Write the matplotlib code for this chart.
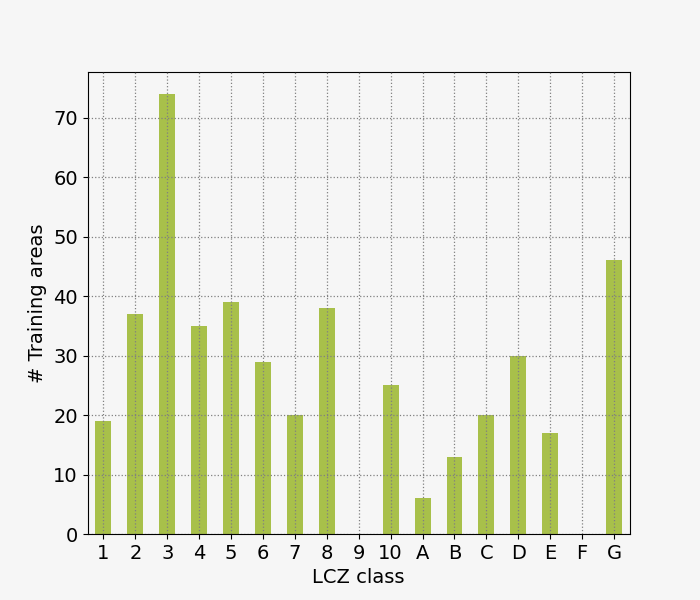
import matplotlib
matplotlib.use("Agg")
import matplotlib.pyplot as plt

categories = ["1", "2", "3", "4", "5", "6", "7", "8", "9", "10",
              "A", "B", "C", "D", "E", "F", "G"]
counts = [19, 37, 74, 35, 39, 29, 20, 38, 0, 25, 6, 13, 20, 30, 17, 0, 46]

bg = "#f6f6f6"
fig, ax = plt.subplots(figsize=(7, 6), dpi=100)
fig.patch.set_facecolor(bg)
ax.set_facecolor(bg)

x = list(range(len(categories)))
ax.bar(x, counts, width=0.5, color="#a8c04a")
ax.set_xlim(-0.5, len(categories) - 0.5)
ax.set_ylim(0, max(counts) * 1.05)
ax.set_xticks(x)
ax.set_xticklabels(categories, fontsize=14)
ax.tick_params(axis="y", labelsize=14)
ax.set_xlabel("LCZ class", fontsize=14)
ax.set_ylabel("# Training areas", fontsize=14)
ax.set_axisbelow(False)
ax.grid(True, linestyle=":", color="gray", linewidth=0.9)

fig.savefig("out.png", dpi=100, facecolor=bg)
